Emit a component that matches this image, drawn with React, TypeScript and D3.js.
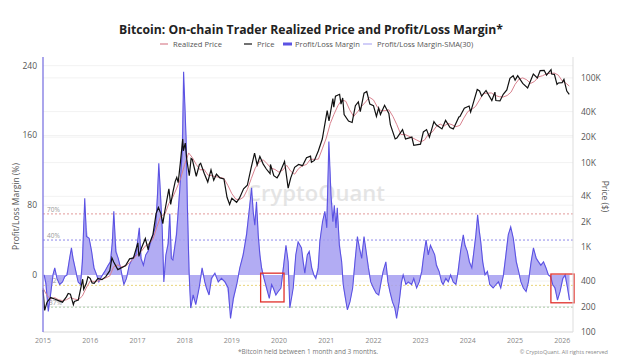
import React from "react";
import * as d3 from "d3";

const W = 640;
const H = 360;
const plot = { left: 43, right: 573, top: 57, bottom: 332 };

// Profit/Loss margin (%)
const marginSeries: [string, number][] = [
  ["2015-01-10", 0], ["2015-01-24", -10], ["2015-02-11", -42], ["2015-02-28", -23], ["2015-03-19", 0],
  ["2015-04-02", 8], ["2015-04-19", -4], ["2015-05-10", -11], ["2015-06-01", -8], ["2015-06-18", -2],
  ["2015-07-06", 0], ["2015-07-26", 19], ["2015-08-09", 31], ["2015-08-21", 19], ["2015-09-12", 4],
  ["2015-09-30", -8], ["2015-10-18", -11], ["2015-11-02", 15], ["2015-11-20", 88], ["2015-12-03", 44],
  ["2015-12-24", 42], ["2016-01-12", 27], ["2016-01-30", 8], ["2016-02-20", 0], ["2016-03-08", -8],
  ["2016-03-28", -2], ["2016-04-23", 4], ["2016-05-19", 11], ["2016-06-06", 15], ["2016-06-21", 38],
  ["2016-07-02", 73], ["2016-07-17", 27], ["2016-08-05", 19], ["2016-08-23", 8], ["2016-09-08", -4],
  ["2016-09-18", -11], ["2016-10-08", -4], ["2016-10-29", 11], ["2016-11-24", 19], ["2016-12-20", 23],
  ["2017-01-15", 54], ["2017-01-28", 19], ["2017-02-16", 11], ["2017-03-06", 23], ["2017-03-24", 27],
  ["2017-04-14", 38], ["2017-05-02", 46], ["2017-05-23", 57], ["2017-06-05", 92], ["2017-06-15", 128],
  ["2017-06-28", 92], ["2017-07-11", 54], ["2017-07-24", -8], ["2017-08-09", 23], ["2017-08-27", 36],
  ["2017-09-08", 70], ["2017-09-20", 19], ["2017-10-02", 17], ["2017-10-30", 46], ["2017-11-25", 99],
  ["2017-12-15", 145], ["2017-12-24", 233], ["2018-01-12", 157], ["2018-01-22", 80], ["2018-02-04", 4],
  ["2018-02-17", -38], ["2018-03-08", -23], ["2018-03-28", -34], ["2018-04-23", -15], ["2018-05-16", 8],
  ["2018-06-06", -8], ["2018-06-19", -15], ["2018-07-09", -23], ["2018-07-27", -4], ["2018-08-23", 2],
  ["2018-09-18", -8], ["2018-10-13", -4], ["2018-11-09", -8], ["2018-12-04", -15], ["2018-12-22", -50],
  ["2019-01-13", -27], ["2019-02-08", -11], ["2019-03-04", 8], ["2019-03-30", 23], ["2019-04-25", 46],
  ["2019-05-15", 73], ["2019-06-03", 100], ["2019-06-15", 73], ["2019-06-28", 57], ["2019-07-11", 84],
  ["2019-07-24", 46], ["2019-08-06", 23], ["2019-08-19", 8], ["2019-09-07", -4], ["2019-09-27", -15],
  ["2019-10-18", -27], ["2019-11-05", -11], ["2019-11-18", -15], ["2019-12-08", -23], ["2019-12-26", -19],
  ["2020-01-16", -15], ["2020-02-04", 8], ["2020-02-24", 34], ["2020-03-12", 15], ["2020-03-25", -38],
  ["2020-04-20", -15], ["2020-05-10", 23], ["2020-05-28", 38], ["2020-06-23", 31], ["2020-07-06", 15],
  ["2020-07-19", 2], ["2020-08-07", 23], ["2020-08-22", 27], ["2020-09-10", 8], ["2020-09-27", 0],
  ["2020-10-12", -4], ["2020-10-31", 8], ["2020-11-12", 38], ["2020-12-03", 61], ["2020-12-21", 73],
  ["2021-01-05", 54], ["2021-01-21", 153], ["2021-02-06", 92], ["2021-02-21", 61], ["2021-03-04", 80],
  ["2021-03-17", 54], ["2021-03-27", 77], ["2021-04-12", 34], ["2021-04-30", 15], ["2021-05-12", -11],
  ["2021-05-25", -23], ["2021-06-13", -40], ["2021-07-03", -31], ["2021-07-24", -15], ["2021-08-11", 15],
  ["2021-08-30", 44], ["2021-09-14", 31], ["2021-10-02", 19], ["2021-10-20", 44], ["2021-11-05", 27],
  ["2021-11-23", 8], ["2021-12-11", -8], ["2022-01-01", -15], ["2022-01-22", -21], ["2022-02-11", -23],
  ["2022-03-01", -8], ["2022-03-17", 4], ["2022-04-07", 15], ["2022-04-23", -8], ["2022-05-08", -19],
  ["2022-05-28", -31], ["2022-06-16", -38], ["2022-06-29", -50], ["2022-07-19", -31], ["2022-08-06", -8],
  ["2022-08-19", 0], ["2022-09-09", -11], ["2022-09-27", -8], ["2022-10-23", -11], ["2022-11-09", -4],
  ["2022-12-01", -15], ["2022-12-21", -8], ["2023-01-10", 4], ["2023-01-22", 19], ["2023-02-12", 40],
  ["2023-03-01", 23], ["2023-03-18", 34], ["2023-04-08", 27], ["2023-04-20", 23], ["2023-05-03", 11],
  ["2023-05-24", 4], ["2023-06-12", -8], ["2023-06-24", -11], ["2023-07-15", -4], ["2023-08-03", -8],
  ["2023-08-21", 0], ["2023-09-10", -8], ["2023-10-01", -11], ["2023-10-18", 4], ["2023-11-06", 27],
  ["2023-11-27", 46], ["2023-12-10", 34], ["2023-12-28", 27], ["2024-01-13", 15], ["2024-02-01", 8],
  ["2024-02-14", 23], ["2024-03-04", 46], ["2024-03-17", 69], ["2024-03-30", 50], ["2024-04-10", 38],
  ["2024-04-25", 15], ["2024-05-13", 0], ["2024-06-01", 4], ["2024-06-19", -11], ["2024-07-15", -15],
  ["2024-08-06", -11], ["2024-08-25", -8], ["2024-09-12", -15], ["2024-10-03", 0], ["2024-10-22", 23],
  ["2024-11-09", 46], ["2024-11-28", 55], ["2024-12-18", 42], ["2025-01-10", 15], ["2025-01-28", 4],
  ["2025-02-15", -8], ["2025-03-06", -15], ["2025-03-27", -19], ["2025-04-14", -8], ["2025-05-05", 15],
  ["2025-05-23", 31], ["2025-06-13", 19], ["2025-07-01", 15], ["2025-07-19", 11], ["2025-08-09", 15],
  ["2025-08-28", 8], ["2025-09-15", 0], ["2025-10-03", -2], ["2025-10-19", -11], ["2025-11-06", -15],
  ["2025-11-25", -29], ["2025-12-15", -19], ["2026-01-05", -4], ["2026-01-23", 0], ["2026-02-11", -15],
  ["2026-02-26", -29],
];

// BTC price ($)
const priceSeries: [string, number][] = [
  ["2015-01-01", 315], ["2015-01-14", 180], ["2015-02-01", 225], ["2015-03-01", 255], ["2015-04-01", 245],
  ["2015-05-01", 235], ["2015-06-01", 225], ["2015-07-01", 260], ["2015-07-15", 285], ["2015-08-01", 280],
  ["2015-08-24", 210], ["2015-09-01", 230], ["2015-10-01", 238], ["2015-11-04", 420], ["2015-11-12", 320],
  ["2015-12-01", 370], ["2015-12-15", 450], ["2016-01-01", 430], ["2016-01-16", 380], ["2016-02-01", 375],
  ["2016-03-01", 430], ["2016-04-01", 415], ["2016-05-01", 450], ["2016-06-01", 530], ["2016-06-17", 750],
  ["2016-07-01", 670], ["2016-08-02", 545], ["2016-09-01", 575], ["2016-10-01", 610], ["2016-11-01", 730],
  ["2016-12-01", 750], ["2017-01-04", 1130], ["2017-01-12", 780], ["2017-02-01", 980], ["2017-03-03", 1270],
  ["2017-03-25", 930], ["2017-04-01", 1080], ["2017-05-01", 1420], ["2017-05-25", 2500], ["2017-06-12", 2950],
  ["2017-07-01", 2500], ["2017-07-16", 1900], ["2017-08-01", 2700], ["2017-09-01", 4900], ["2017-09-15", 3200],
  ["2017-10-01", 4400], ["2017-10-20", 6000], ["2017-11-01", 6700], ["2017-11-12", 5800], ["2017-11-29", 10000],
  ["2017-12-17", 19000], ["2017-12-22", 13800], ["2018-01-06", 17000], ["2018-01-17", 11000], ["2018-02-06", 7000],
  ["2018-02-20", 11200], ["2018-03-01", 10900], ["2018-04-01", 6900], ["2018-04-25", 9500], ["2018-05-05", 9800],
  ["2018-06-01", 7500], ["2018-06-29", 5900], ["2018-07-24", 8200], ["2018-08-14", 6200], ["2018-09-04", 7300],
  ["2018-10-01", 6600], ["2018-11-01", 6400], ["2018-11-25", 3900], ["2018-12-15", 3200], ["2019-01-01", 3800],
  ["2019-02-07", 3400], ["2019-03-01", 3800], ["2019-04-02", 4900], ["2019-05-01", 5400], ["2019-05-30", 8600],
  ["2019-06-26", 12900], ["2019-07-16", 9400], ["2019-08-06", 11800], ["2019-09-01", 9600], ["2019-09-25", 8400],
  ["2019-10-24", 7400], ["2019-10-27", 9500], ["2019-11-22", 7000], ["2019-12-17", 6600], ["2020-01-01", 7200],
  ["2020-02-13", 10300], ["2020-03-12", 5000], ["2020-04-01", 6600], ["2020-05-01", 8800], ["2020-06-01", 9500],
  ["2020-07-01", 9200], ["2020-08-01", 11400], ["2020-09-01", 11900], ["2020-09-08", 10100], ["2020-10-01", 10600],
  ["2020-11-01", 13800], ["2020-12-01", 19000], ["2021-01-08", 41000], ["2021-01-22", 31000], ["2021-02-21", 57000],
  ["2021-02-28", 45000], ["2021-03-13", 61000], ["2021-04-14", 64000], ["2021-04-25", 49000], ["2021-05-08", 58000],
  ["2021-05-19", 37000], ["2021-06-22", 31000], ["2021-07-20", 29800], ["2021-08-14", 47000], ["2021-09-06", 52000],
  ["2021-09-21", 40000], ["2021-10-20", 66000], ["2021-11-10", 69000], ["2021-12-04", 49000], ["2022-01-01", 47000],
  ["2022-01-24", 35000], ["2022-02-10", 44000], ["2022-02-24", 37000], ["2022-03-28", 47500], ["2022-04-30", 38000],
  ["2022-05-12", 28000], ["2022-06-18", 19000], ["2022-07-01", 19500], ["2022-08-14", 24500], ["2022-09-06", 19000],
  ["2022-10-25", 20000], ["2022-11-09", 16000], ["2022-12-31", 16500], ["2023-01-22", 23000], ["2023-02-16", 24500],
  ["2023-03-10", 20000], ["2023-04-14", 30500], ["2023-05-01", 28000], ["2023-06-15", 25000], ["2023-07-13", 31500],
  ["2023-08-17", 26000], ["2023-09-11", 25000], ["2023-10-24", 34500], ["2023-11-01", 35000], ["2023-12-05", 44000],
  ["2024-01-11", 46500], ["2024-01-23", 39500], ["2024-02-15", 52000], ["2024-03-14", 73000], ["2024-04-01", 70000],
  ["2024-04-17", 61000], ["2024-05-21", 71000], ["2024-07-05", 54000], ["2024-07-29", 68000], ["2024-08-05", 54000],
  ["2024-09-06", 53500], ["2024-10-01", 64000], ["2024-10-29", 72000], ["2024-11-22", 99000], ["2024-12-17", 106000],
  ["2025-01-01", 94000], ["2025-01-21", 106000], ["2025-02-01", 100000], ["2025-03-01", 86000], ["2025-04-08", 76000],
  ["2025-05-22", 111000], ["2025-06-22", 100000], ["2025-07-14", 122000], ["2025-08-14", 123000], ["2025-09-01", 108000],
  ["2025-10-06", 125000], ["2025-10-11", 111000], ["2025-11-01", 110000], ["2025-11-21", 84000], ["2025-12-01", 87000],
  ["2025-12-31", 88000], ["2026-01-14", 96000], ["2026-02-05", 70000], ["2026-02-24", 64000],
];

// trader (1m-3m) realized price ($)
const realizedSeries: [string, number][] = [
  ["2015-01-01", 330], ["2015-02-01", 270], ["2015-03-01", 245], ["2015-04-01", 255], ["2015-05-01", 240],
  ["2015-06-01", 235], ["2015-07-01", 240], ["2015-08-01", 255], ["2015-09-01", 245], ["2015-10-01", 240],
  ["2015-11-01", 265], ["2015-12-01", 330], ["2016-01-01", 400], ["2016-02-01", 395], ["2016-03-01", 400],
  ["2016-04-01", 420], ["2016-05-01", 435], ["2016-06-01", 460], ["2016-07-01", 590], ["2016-08-01", 620],
  ["2016-09-01", 590], ["2016-10-01", 600], ["2016-11-01", 660], ["2016-12-01", 730], ["2017-01-01", 820],
  ["2017-02-01", 900], ["2017-03-01", 1030], ["2017-04-01", 1100], ["2017-05-01", 1250], ["2017-06-01", 1750],
  ["2017-07-01", 2350], ["2017-08-01", 2450], ["2017-09-01", 3300], ["2017-10-01", 3900], ["2017-11-01", 5000],
  ["2017-12-01", 6500], ["2018-01-01", 9500], ["2018-02-01", 13000], ["2018-03-01", 11500], ["2018-04-01", 9500],
  ["2018-05-01", 8200], ["2018-06-01", 8300], ["2018-07-01", 7100], ["2018-08-01", 7000], ["2018-09-01", 6800],
  ["2018-10-01", 6700], ["2018-11-01", 6500], ["2018-12-01", 5400], ["2019-01-01", 4300], ["2019-02-01", 3700],
  ["2019-03-01", 3650], ["2019-04-01", 3900], ["2019-05-01", 4800], ["2019-06-01", 6500], ["2019-07-01", 8600],
  ["2019-08-01", 10200], ["2019-09-01", 10800], ["2019-10-01", 9700], ["2019-11-01", 8600], ["2019-12-01", 8300],
  ["2020-01-01", 7700], ["2020-02-01", 8200], ["2020-03-01", 9300], ["2020-04-01", 7900], ["2020-05-01", 7300],
  ["2020-06-01", 8500], ["2020-07-01", 9200], ["2020-08-01", 9500], ["2020-09-01", 11000], ["2020-10-01", 10900],
  ["2020-11-01", 11000], ["2020-12-01", 14500], ["2021-01-01", 19500], ["2021-02-01", 29000], ["2021-03-01", 37000],
  ["2021-04-01", 47000], ["2021-05-01", 55000], ["2021-06-01", 53000], ["2021-07-01", 42000], ["2021-08-01", 35000],
  ["2021-09-01", 40000], ["2021-10-01", 46000], ["2021-11-01", 52000], ["2021-12-01", 59000], ["2022-01-01", 55000],
  ["2022-02-01", 45000], ["2022-03-01", 41000], ["2022-04-01", 41000], ["2022-05-01", 42000], ["2022-06-01", 35000],
  ["2022-07-01", 28000], ["2022-08-01", 21500], ["2022-09-01", 21500], ["2022-10-01", 20500], ["2022-11-01", 19500],
  ["2022-12-01", 18500], ["2023-01-01", 17500], ["2023-02-01", 18500], ["2023-03-01", 21500], ["2023-04-01", 23000],
  ["2023-05-01", 26500], ["2023-06-01", 28500], ["2023-07-01", 27000], ["2023-08-01", 29000], ["2023-09-01", 28000],
  ["2023-10-01", 26500], ["2023-11-01", 27500], ["2023-12-01", 33500], ["2024-01-01", 40000], ["2024-02-01", 42500],
  ["2024-03-01", 46000], ["2024-04-01", 55000], ["2024-05-01", 65500], ["2024-06-01", 66000], ["2024-07-01", 66500],
  ["2024-08-01", 62000], ["2024-09-01", 60000], ["2024-10-01", 59500], ["2024-11-01", 62000], ["2024-12-01", 68000],
  ["2025-01-01", 84000], ["2025-02-01", 97000], ["2025-03-01", 100000], ["2025-04-01", 95000], ["2025-05-01", 86000],
  ["2025-06-01", 91000], ["2025-07-01", 103000], ["2025-08-01", 106000], ["2025-09-01", 112000], ["2025-10-01", 113000],
  ["2025-11-01", 114000], ["2025-12-01", 108000], ["2026-01-01", 92000], ["2026-02-01", 86000], ["2026-02-24", 80000],
];

const years = [2015, 2016, 2017, 2018, 2019, 2020, 2021, 2022, 2023, 2024, 2025, 2026];
const leftTicks = [0, 80, 160, 240];
const rightTicks: [number, string][] = [
  [100, "100"], [200, "200"], [400, "400"], [1000, "1K"], [2000, "2K"],
  [4000, "4K"], [10000, "10K"], [20000, "20K"], [40000, "40K"], [100000, "100K"],
];
// margin bands: value, label, colour
const bands: [number, string, string][] = [
  [70, "70%", "#e29a9a"],
  [40, "40%", "#8f89ea"],
  [-12, "-12%", "#e9d57a"],
  [-37, "-37%", "#a9c9a6"],
];
// highlighted periods: start, end, top value, bottom value
const boxes: [string, string, number, number][] = [
  ["2019-08-12", "2020-02-09", 2, -31],
  ["2025-10-05", "2026-04-02", 1, -32],
];

const parse = d3.timeParse("%Y-%m-%d");
const toPts = (s: [string, number][]) => s.map(([d, v]) => ({ date: parse(d) as Date, v }));

const font = "'Open Sans', 'Noto Sans', sans-serif";

export default function App() {
  const x = d3
    .scaleTime()
    .domain([new Date(2015, 0, 1), new Date(2026, 2, 25)])
    .range([plot.left, plot.right]);
  const yL = d3.scaleLinear().domain([-65.5, 250]).range([plot.bottom, plot.top]);
  const yR = d3.scaleLog().domain([100, 176500]).range([plot.bottom, plot.top]);

  const margin = toPts(marginSeries);
  const price = toPts(priceSeries);
  const realized = toPts(realizedSeries);

  const area = d3
    .area<{ date: Date; v: number }>()
    .x((d) => x(d.date))
    .y0(yL(0))
    .y1((d) => yL(d.v));
  const mLine = d3
    .line<{ date: Date; v: number }>()
    .x((d) => x(d.date))
    .y((d) => yL(d.v));
  const pLine = d3
    .line<{ date: Date; v: number }>()
    .x((d) => x(d.date))
    .y((d) => yR(d.v));
  const sma = d3
    .line<{ date: Date; v: number }>()
    .x((d) => x(d.date))
    .y((d) => yL(d.v))
    .curve(d3.curveBasis)(margin);

  return (
    <svg
      width={W}
      height={H}
      style={{ position: "absolute", left: 0, top: 0, background: "#fff" }}
      fontFamily={font}
    >
      <text x={311} y={34} textAnchor="middle" fontSize={12.2} fontWeight={700} fill="#222">
        Bitcoin: On-chain Trader Realized Price and Profit/Loss Margin*
      </text>

      {/* legend */}
      <g fontSize={7.6} fill="#555">
        <line x1={160} x2={168} y1={44} y2={44} stroke="#d9828f" strokeWidth={1.2} />
        <text x={173} y={47}>Realized Price</text>
        <line x1={244} x2={252} y1={44} y2={44} stroke="#111" strokeWidth={1.2} />
        <text x={257} y={47}>Price</text>
        <rect x={283} y={42.5} width={9} height={3} fill="#5b52e3" />
        <text x={295} y={47}>Profit/Loss Margin</text>
        <line x1={363} x2={372} y1={44} y2={44} stroke="#b3aef3" strokeWidth={1.2} />
        <text x={377} y={47}>Profit/Loss Margin-SMA(30)</text>
      </g>

      {/* grid */}
      <g stroke="#f2f2f2" strokeWidth={1}>
        {leftTicks.filter((t) => t > 0).map((t) => (
          <line key={t} x1={plot.left} x2={plot.right} y1={yL(t)} y2={yL(t)} />
        ))}
        {rightTicks.map(([t]) => (
          <line key={t} x1={plot.left} x2={plot.right} y1={yR(t)} y2={yR(t)} />
        ))}
      </g>

      {/* watermark */}
      <text
        x={316}
        y={201}
        textAnchor="middle"
        fontSize={22}
        fontWeight={600}
        fill="#dadada"
        opacity={0.7}
      >
        CryptoQuant
      </text>

      {/* bands */}
      {bands.map(([v, label, c]) => (
        <g key={label}>
          <line
            x1={plot.left}
            x2={plot.right}
            y1={yL(v)}
            y2={yL(v)}
            stroke={c}
            strokeWidth={1}
            strokeDasharray="2,2"
          />
          <text x={plot.left + 4} y={yL(v) - 2} fontSize={6.5} fill="#999">
            {label}
          </text>
        </g>
      ))}

      {/* margin */}
      <path d={area(margin) || ""} fill="#a49ef1" opacity={0.85} />
      <path d={sma || ""} fill="none" stroke="#c0bcf6" strokeWidth={1} />
      <path d={mLine(margin) || ""} fill="none" stroke="#5b52e3" strokeWidth={1.1} />

      {/* prices */}
      <path d={pLine(realized) || ""} fill="none" stroke="#d9828f" strokeWidth={1} />
      <path d={pLine(price) || ""} fill="none" stroke="#111" strokeWidth={1.2} />

      {/* highlight boxes */}
      {boxes.map(([a, b, top, bot]) => (
        <rect
          key={a}
          x={x(parse(a) as Date)}
          y={yL(top)}
          width={x(parse(b) as Date) - x(parse(a) as Date)}
          height={yL(bot) - yL(top)}
          fill="none"
          stroke="#e0302a"
          strokeWidth={1.3}
        />
      ))}

      {/* axes */}
      <line x1={plot.left} x2={plot.right} y1={plot.bottom} y2={plot.bottom} stroke="#ddd" />
      <line x1={plot.right} x2={plot.right} y1={plot.top} y2={plot.bottom} stroke="#ddd" />
      <line x1={plot.left} x2={plot.left} y1={plot.top} y2={plot.bottom} stroke="#7d76e2" strokeWidth={1.3} />

      <g fontSize={8.5} fill="#555" textAnchor="end">
        {leftTicks.map((t) => (
          <text key={t} x={37} y={yL(t) + 3}>
            {t}
          </text>
        ))}
      </g>
      <g fontSize={8.5} fill="#555">
        {rightTicks.map(([t, label]) => (
          <text key={t} x={581} y={yR(t) + 3}>
            {label}
          </text>
        ))}
      </g>
      <g fontSize={7} fill="#888" textAnchor="middle">
        {years.map((yr) => (
          <text key={yr} x={x(new Date(yr, 0, 1))} y={343}>
            {yr}
          </text>
        ))}
      </g>

      <text
        transform={`translate(19,${(plot.top + plot.bottom) / 2 + 12}) rotate(-90)`}
        textAnchor="middle"
        fontSize={8.5}
        fill="#555"
      >
        Profit/Loss Margin (%)
      </text>
      <text
        transform={`translate(602,${(plot.top + plot.bottom) / 2 + 2}) rotate(90)`}
        textAnchor="middle"
        fontSize={8.5}
        fill="#555"
      >
        Price ($)
      </text>

      <text x={308} y={354} textAnchor="middle" fontSize={6.5} fill="#777">
        *Bitcoin held between 1 month and 3 months.
      </text>
      <text x={608} y={354} textAnchor="end" fontSize={5.5} fill="#888">
        © CryptoQuant. All rights reserved
      </text>
    </svg>
  );
}
